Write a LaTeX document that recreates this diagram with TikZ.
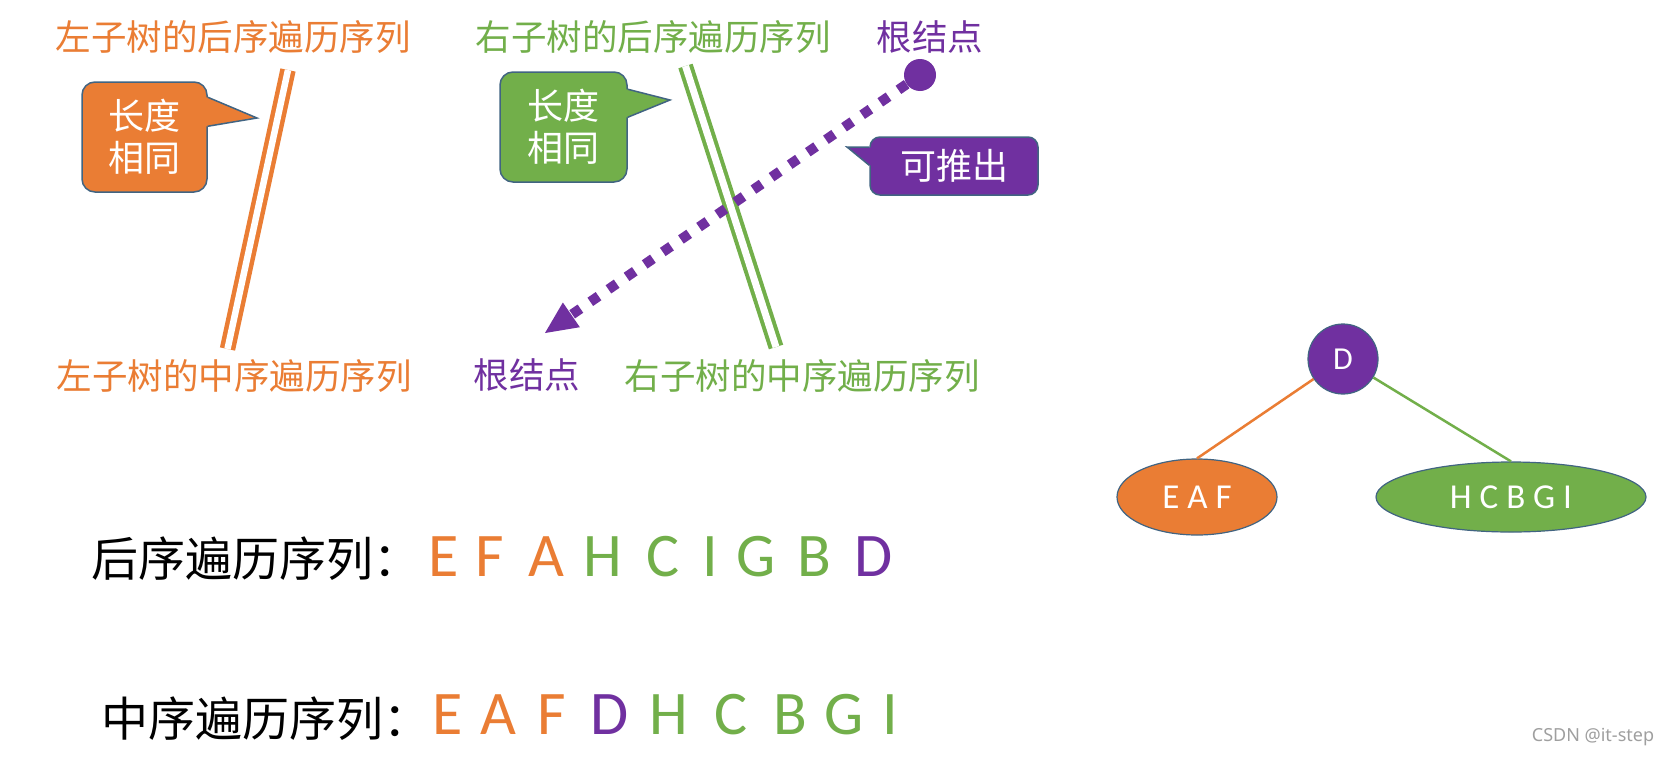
\documentclass[tikz,border=0pt]{standalone}
\usepackage{fontspec}
\setmainfont{Carlito}
\newfontfamily\cjk{Noto Sans CJK SC}
\newfontfamily\lat{Carlito}
\newfontfamily\wm{Noto Sans}
\usetikzlibrary{arrows.meta,shapes.geometric,calc}
\definecolor{ora}{RGB}{234,125,52}
\definecolor{grn}{RGB}{114,175,74}
\definecolor{pur}{RGB}{112,48,160}
\definecolor{bdr}{RGB}{65,100,130}

\begin{document}
\begin{tikzpicture}[x=1pt,y=-1pt,
  lbl/.style={inner sep=0pt,font=\cjk\fontsize{35.5}{40}\selectfont},
  callbox/.style={draw=bdr,line width=1.5pt,rounded corners=13pt,inner sep=0pt,text=white,align=center,font=\cjk\fontsize{36}{42}\selectfont},
  bar/.style={line width=4.5pt,double=white,double distance=6.5pt},
  big/.style={inner sep=0pt,font=\lat\fontsize{62}{62}\selectfont},
  tnode/.style={draw=bdr,line width=1.2pt,text=white,font=\lat\fontsize{35}{35}\selectfont}]

   \path[use as bounding box,fill=white] (0,0) rectangle (1673,758);

   %labels
   \node[lbl,text=ora] (lpost) at (233,37) {左子树的后序遍历序列};
   \node[lbl,text=ora] (lin) at (234,376) {左子树的中序遍历序列};
   \node[lbl,text=grn] (rpost) at (653,37) {右子树的后序遍历序列};
   \node[lbl,text=grn] (rin) at (802,376) {右子树的中序遍历序列};
   \node[lbl,text=pur] (roottop) at (930,37) {根结点};
   \node[lbl,text=pur] (rootbot) at (527,375) {根结点};

   %bars
   \coordinate (ltop) at (288,70);
   \coordinate (lbot) at (227.5,349);
   \coordinate (rtop) at (685.5,66);
   \coordinate (rbot) at (776,347);
   \draw[bar,ora] (ltop) -- (lbot);
   \draw[bar,grn,line width=4pt,double distance=7pt] (rtop) -- (rbot);

   %callouts
   \node[callbox,fill=ora,minimum width=125pt,minimum height=110pt] (lsame) at (144.5,137) {长度\\相同};
   \coordinate (ltip) at (257,118);
   \fill[ora] ($(lsame.north east)+(-2,16)$) -- ($(lsame.north east)+(0,16)$) -- (ltip) -- ($(lsame.north east)+(0,45)$) -- ($(lsame.north east)+(-2,45)$) -- cycle;
   \draw[bdr,line width=1.5pt] ($(lsame.north east)+(0,16)$) -- (ltip) -- ($(lsame.north east)+(0,45)$);

   \node[callbox,fill=grn,minimum width=127pt,minimum height=110pt] (rsame) at (563.5,127) {长度\\相同};
   \coordinate (rtip2) at (670,100);
   \fill[grn] ($(rsame.north east)+(-2,18)$) -- ($(rsame.north east)+(0,18)$) -- (rtip2) -- ($(rsame.north east)+(0,46)$) -- ($(rsame.north east)+(-2,46)$) -- cycle;
   \draw[bdr,line width=1.5pt] ($(rsame.north east)+(0,18)$) -- (rtip2) -- ($(rsame.north east)+(0,46)$);

   \node[callbox,fill=pur,rounded corners=10pt,minimum width=168pt,minimum height=58pt] (derive) at (954,166) {可推出};
   \coordinate (dtip) at (847,147);
   \fill[pur] ($(derive.north west)+(2,11)$) -- ($(derive.north west)+(0,11)$) -- (dtip) -- ($(derive.north west)+(0,29)$) -- ($(derive.north west)+(2,29)$) -- cycle;
   \draw[bdr,line width=1.5pt] ($(derive.north west)+(0,11)$) -- (dtip) -- ($(derive.north west)+(0,29)$);

   %root arrow
   \node[circle,fill=pur,minimum size=32pt,inner sep=0pt] (rootdot) at (920,75) {};
   \coordinate (rtip) at (545,333);
   \draw[pur,line width=10pt,dash pattern=on 10pt off 12pt,-{Triangle[length=32pt,width=30pt,line width=0pt]}] (rootdot) -- (rtip);

   %tree
   \node[circle,fill=pur,tnode,minimum size=70pt,inner sep=0pt,font=\lat\fontsize{32}{32}\selectfont] (nd) at (1343,359) {D};
   \node[ellipse,fill=ora,tnode,minimum width=160pt,minimum height=76pt] (eaf) at (1197,497) {E A F};
   \node[ellipse,fill=grn,tnode,minimum width=270pt,minimum height=70pt] (hcbgi) at (1511,497) {H C B G I};
   \draw[ora,line width=2.5pt] (nd) -- (eaf.north);
   \draw[grn,line width=2.5pt] (nd) -- (hcbgi.north);

   %sequences
   \node[inner sep=0pt,anchor=west,font=\cjk\fontsize{47}{47}\selectfont] (post) at (91,559) {后序遍历序列：};
   \node[inner sep=0pt,anchor=west,font=\cjk\fontsize{47}{47}\selectfont] (mid) at (101,719) {中序遍历序列：};
   \foreach \x/\c/\t [count=\i] in {444/ora/E,490/ora/F,546/ora/A,603/grn/H,663/grn/C,710/grn/I,756/grn/G,814/grn/B,874/pur/D}
      \node[big,text=\c] (p\i) at (\x,557) {\t};
   \foreach \x/\c/\t [count=\i] in {448/ora/E,498/ora/A,552/ora/F,610/pur/D,669/grn/H,731/grn/C,790/grn/B,844/grn/G,890/grn/I}
      \node[big,text=\c] (m\i) at (\x,715) {\t};

   \node[text=gray!75,font=\wm\fontsize{18}{18}\selectfont] (mark) at (1593,737) {CSDN @it-step};

\end{tikzpicture}
\end{document}
